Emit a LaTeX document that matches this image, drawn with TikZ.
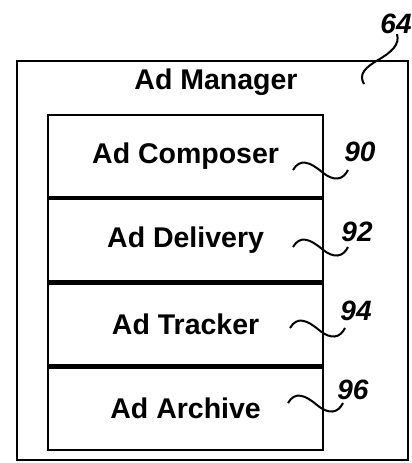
\documentclass[tikz,border=0pt]{standalone}
\usepackage{fontspec}
\setmainfont{Liberation Sans}
\usetikzlibrary{positioning}

\tikzset{
    part/.style={draw, line width=2.2pt, minimum width=275pt, minimum height=82pt,
        inner sep=0pt, font=\fontsize{28.5}{30}\selectfont\bfseries},
    refnum/.style={font=\fontsize{28}{30}\selectfont\bfseries\itshape, inner sep=0pt},
    leader/.style={line width=2pt}
}

\begin{document}
\begin{tikzpicture}[x=1pt, y=-1pt]
            \useasboundingbox (0,0) rectangle (412,463);

            % manager frame
            \draw[line width=2.2pt] (17,61) rectangle (408,460);
            \node[font=\fontsize{28.5}{30}\selectfont\bfseries] (manager) at (216,82) {Ad Manager};

            % stacked parts
            \node[part, anchor=north west] (composer) at (47,114) {Ad Composer};
            \node[part, below=0pt of composer] (delivery) {Ad Delivery};
            \node[part, below=0pt of delivery] (tracker) {Ad Tracker};
            \node[part, below=0pt of tracker] (archive) {Ad Archive};

            % reference numbers
            \node[refnum] (n64) at (396,24) {64};
            \node[refnum] (n90) at (360,152) {90};
            \node[refnum] (n92) at (357,232) {92};
            \node[refnum] (n94) at (356,311) {94};
            \node[refnum] (n96) at (353,390) {96};

            \coordinate (e64) at (364,84);
            \coordinate (e90) at (293,170);
            \coordinate (e92) at (293,247);
            \coordinate (e94) at (290,328);
            \coordinate (e96) at (288,403);

            \draw[leader] (n64.south) ++(1,0) .. controls +(3,10) and (392,52) .. (378,60)
                .. controls (366,67) and (358,74) .. (e64);
            \foreach \n in {90,92,94,96} {
                \draw[leader] (e\n) .. controls +(7,-12) and +(-12,-10) .. ++(29,2)
                    .. controls +(12,10) and +(-5,10) .. ++(26,-2);
            }
        \end{tikzpicture}
\end{document}
